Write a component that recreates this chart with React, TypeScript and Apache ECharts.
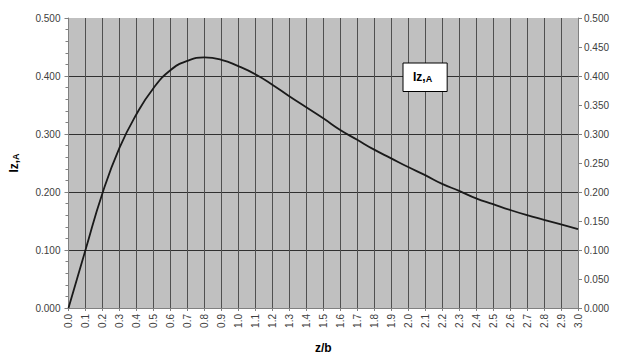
import React, { useEffect, useRef } from "react";
import * as echarts from "echarts";

const zOverB = [0, 0.1, 0.2, 0.3, 0.4, 0.5, 0.6, 0.7, 0.8, 0.9, 1.0, 1.1, 1.2, 1.3, 1.4, 1.5, 1.6, 1.7, 1.8, 1.9, 2.0, 2.1, 2.2, 2.3, 2.4, 2.5, 2.6, 2.7, 2.8, 2.9, 3.0];
const izA = [0, 0.1, 0.198, 0.276, 0.334, 0.379, 0.41, 0.426, 0.432, 0.428, 0.417, 0.403, 0.385, 0.365, 0.346, 0.327, 0.307, 0.29, 0.273, 0.258, 0.243, 0.229, 0.214, 0.202, 0.189, 0.179, 0.169, 0.16, 0.152, 0.144, 0.136];
const seriesName = "Iz,A";

const FONT = "'Liberation Sans', Arial, sans-serif";

export default function App() {
  const ref = useRef<HTMLDivElement>(null);
  useEffect(() => {
    if (!ref.current) return;
    const chart = echarts.init(ref.current, null, { renderer: "svg" });
    const labelStyle = { color: "#404040", fontSize: 10, fontFamily: FONT };
    const axisLineStyle = { lineStyle: { color: "#808080", width: 1 } };
    chart.setOption({
      animation: false,
      backgroundColor: "#ffffff",
      textStyle: { fontFamily: FONT },
      grid: {
        left: 65,
        right: 46,
        top: 18,
        bottom: 50,
        show: true,
        backgroundColor: "#c0c0c0",
        borderWidth: 0,
      },
      legend: {
        show: true,
        data: [{ name: seriesName, icon: "none" }],
        left: 403,
        top: 63,
        itemWidth: 0,
        itemHeight: 0,
        padding: [8, 15, 8, 5],
        backgroundColor: "#ffffff",
        borderColor: "#000000",
        borderWidth: 1,
        formatter: () => "{a|Iz,}{b|A}",
        textStyle: {
          rich: {
            a: { fontSize: 12, fontWeight: "bold", color: "#000", fontFamily: FONT },
            b: { fontSize: 9, fontWeight: "bold", color: "#000", fontFamily: FONT, verticalAlign: "bottom", padding: [4, 0, 0, 0] },
          },
        },
      },
      xAxis: {
        type: "value",
        min: 0,
        max: 3,
        interval: 0.1,
        name: "z/b",
        nameLocation: "middle",
        nameGap: 34,
        nameTextStyle: { fontSize: 12, fontWeight: "bold", color: "#000", fontFamily: FONT },
        axisLine: axisLineStyle,
        axisTick: { show: true, length: 3, lineStyle: { color: "#808080" } },
        axisLabel: {
          ...labelStyle,
          rotate: 90,
          margin: 6,
          formatter: (v: number) => v.toFixed(1),
        },
        splitLine: { show: true, lineStyle: { color: "#505050", width: 1 } },
      },
      yAxis: [
        {
          type: "value",
          min: 0,
          max: 0.5,
          interval: 0.1,
          position: "left",
          name: "{a|Iz,}{b|A}",
          nameLocation: "middle",
          nameRotate: 90,
          nameGap: 48,
          nameTextStyle: {
            rich: {
              a: { fontSize: 12, fontWeight: "bold", color: "#000", fontFamily: FONT },
              b: { fontSize: 9, fontWeight: "bold", color: "#000", fontFamily: FONT, padding: [4, 0, 0, 0] },
            },
          },
          axisLine: { show: true, ...axisLineStyle },
          axisTick: { show: true, length: 4, lineStyle: { color: "#808080" } },
          minorTick: { show: true, splitNumber: 5, length: 3, lineStyle: { color: "#808080" } },
          axisLabel: { ...labelStyle, margin: 8, formatter: (v: number) => v.toFixed(3) },
          splitLine: {
            show: true,
            lineStyle: { color: ["#303030", "#303030", "#303030", "#303030", "#303030", "rgba(0,0,0,0)"], width: 1 },
          },
        },
        {
          type: "value",
          min: 0,
          max: 0.5,
          interval: 0.05,
          position: "right",
          axisLine: { show: true, ...axisLineStyle },
          axisTick: { show: true, length: 4, inside: false, lineStyle: { color: "#808080" } },
          axisLabel: { ...labelStyle, margin: 6, formatter: (v: number) => v.toFixed(3) },
          splitLine: { show: false },
        },
      ],
      series: [
        {
          name: seriesName,
          type: "line",
          data: zOverB.map((x, i) => [x, izA[i]]),
          smooth: true,
          symbol: "none",
          lineStyle: { color: "#1a1a1a", width: 1.8 },
          itemStyle: { color: "#1a1a1a" },
        },
      ],
    });
    return () => chart.dispose();
  }, []);
  return <div ref={ref} style={{ position: "fixed", left: 0, top: 0, width: 624, height: 359 }} />;
}
